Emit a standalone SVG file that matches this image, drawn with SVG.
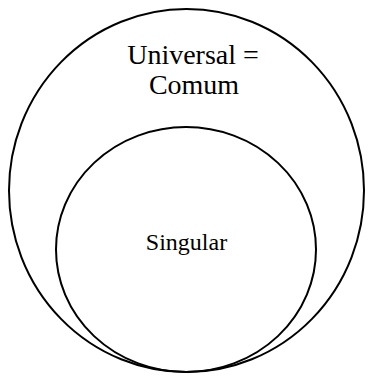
<svg xmlns="http://www.w3.org/2000/svg" width="371" height="376" viewBox="0 0 371 376">
<style>
.c{fill:none;stroke:#000;stroke-width:2}
.t{font-family:"Liberation Serif","Times New Roman",serif;fill:#000;text-anchor:middle}
.big{font-size:28px}
.sm{font-size:24px}
</style>
<rect width="371" height="376" fill="#fff"/>
<g id="universal">
<ellipse class="c" cx="186.5" cy="190.5" rx="177.5" ry="181.5"/>
<text class="t big" x="193" y="64">Universal =</text>
<text class="t big" x="194" y="94">Comum</text>
</g>
<g id="singular">
<ellipse class="c" cx="186" cy="249.5" rx="130" ry="122.5"/>
<text class="t sm" x="186.5" y="250">Singular</text>
</g>
<g id="connectors"/>
</svg>
